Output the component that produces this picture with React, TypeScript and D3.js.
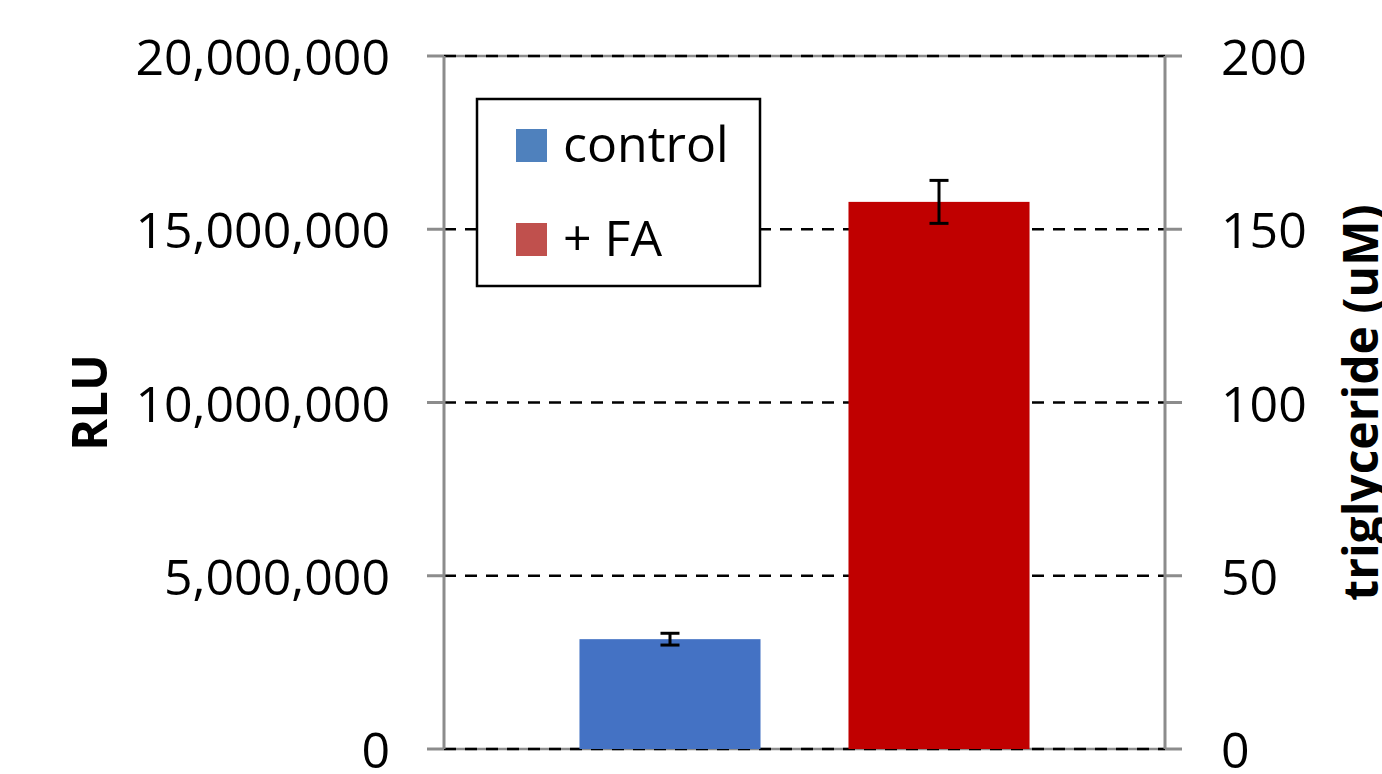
import React from "react";
import * as d3 from "d3";

const categories = [""];
const seriesNames = ["control", "+ FA"];
const rluValues = [3170000, 15790000];
const rluErrors = [170000, 620000];
const leftTicks = [0, 5000000, 10000000, 15000000, 20000000];
const rightTicks = [0, 50, 100, 150, 200];
const barColors = ["#4472C4", "#C00000"];
const legendColors = ["#4F81BD", "#C0504D"];

const W = 1382;
const H = 774;
const M = { left: 444, right: 1165, top: 56, bottom: 749 };
const FONT = "'Open Sans', sans-serif";

export default function App() {
  const y = d3.scaleLinear().domain([0, 20000000]).range([M.bottom, M.top]);
  const yR = d3.scaleLinear().domain([0, 200]).range([M.bottom, M.top]);
  const x0 = d3.scaleBand().domain(categories).range([M.left, M.right]).paddingInner(0).paddingOuter(0.301);
  const x1 = d3.scaleBand().domain(seriesNames).range([0, x0.bandwidth()]).paddingInner(0.327).paddingOuter(0);
  const fmt = d3.format(",");
  const gray = "#8c8c8c";

  return (
    <svg width={W} height={H} style={{ position: "absolute", left: 0, top: 0, background: "#fff" }}>
      {/* plot border lines top/bottom */}
      <line x1={M.left} x2={M.right} y1={M.top} y2={M.top} stroke={gray} strokeWidth={2.5} />
      <line x1={M.left} x2={M.right} y1={M.bottom} y2={M.bottom} stroke={gray} strokeWidth={2.5} />
      {/* gridlines */}
      {leftTicks.map((t) => (
        <line key={"g" + t} x1={M.left} x2={M.right} y1={y(t)} y2={y(t)} stroke="#000" strokeWidth={2.6} strokeDasharray="12 9" />
      ))}
      {/* bars */}
      {categories.map((c) =>
        seriesNames.map((s, i) => {
          const bx = (x0(c) as number) + (x1(s) as number);
          const bw = x1.bandwidth();
          return (
            <rect key={s} x={bx} y={y(rluValues[i])} width={bw} height={y(0) - y(rluValues[i])} fill={barColors[i]} />
          );
        })
      )}
      {/* error bars */}
      {categories.map((c) =>
        seriesNames.map((s, i) => {
          const cx = (x0(c) as number) + (x1(s) as number) + x1.bandwidth() / 2;
          const yt = y(rluValues[i] + rluErrors[i]);
          const yb = y(rluValues[i] - rluErrors[i]);
          return (
            <g key={"e" + s} stroke="#000" strokeWidth={3}>
              <line x1={cx} x2={cx} y1={yt} y2={yb} />
              <line x1={cx - 9.5} x2={cx + 9.5} y1={yt} y2={yt} />
              <line x1={cx - 9.5} x2={cx + 9.5} y1={yb} y2={yb} />
            </g>
          );
        })
      )}
      {/* left axis */}
      <line x1={M.left} x2={M.left} y1={M.top} y2={M.bottom} stroke={gray} strokeWidth={3} />
      {leftTicks.map((t) => (
        <g key={"l" + t}>
          <line x1={M.left - 17} x2={M.left} y1={y(t)} y2={y(t)} stroke={gray} strokeWidth={3} />
          <text x={390} y={y(t)} textAnchor="end" dominantBaseline="central" fontFamily={FONT} fontSize={50} fill="#000">
            {fmt(t)}
          </text>
        </g>
      ))}
      {/* right axis */}
      <line x1={M.right} x2={M.right} y1={M.top} y2={M.bottom} stroke={gray} strokeWidth={3} />
      {rightTicks.map((t) => (
        <g key={"r" + t}>
          <line x1={M.right} x2={M.right + 17} y1={yR(t)} y2={yR(t)} stroke={gray} strokeWidth={3} />
          <text x={1221} y={yR(t)} textAnchor="start" dominantBaseline="central" fontFamily={FONT} fontSize={50} fill="#000">
            {t}
          </text>
        </g>
      ))}
      {/* axis titles */}
      <text transform={`translate(88, ${(M.top + M.bottom) / 2}) rotate(-90)`} textAnchor="middle" dominantBaseline="central" fontFamily={FONT} fontWeight="bold" fontSize={49} fill="#000">
        RLU
      </text>
      <text transform={`translate(1359, ${(M.top + M.bottom) / 2}) rotate(-90)`} textAnchor="middle" dominantBaseline="central" fontFamily={FONT} fontWeight="bold" fontSize={48} fill="#000">
        triglyceride (uM)
      </text>
      {/* legend */}
      <rect x={477} y={99} width={283} height={187} fill="#fff" stroke="#000" strokeWidth={2.5} />
      {seriesNames.map((s, i) => (
        <g key={"lg" + s}>
          <rect x={516} y={129 + i * 94} width={31} height={33} fill={legendColors[i]} />
          <text x={563} y={162 + i * 94} fontFamily={FONT} fontSize={50} fill="#000">
            {s}
          </text>
        </g>
      ))}
    </svg>
  );
}
